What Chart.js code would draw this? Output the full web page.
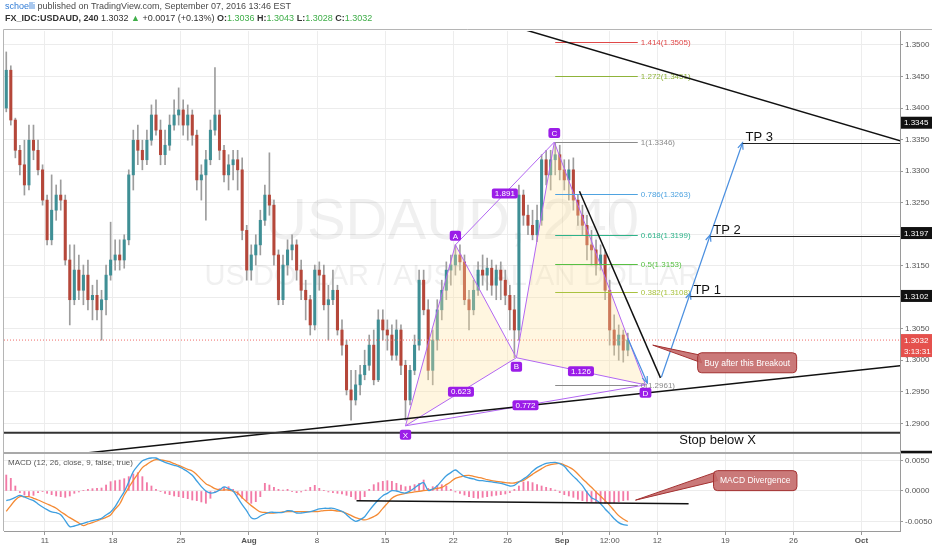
<!DOCTYPE html>
<html>
<head>
<meta charset="utf-8">
<script src="https://cdn.jsdelivr.net/npm/chart.js@4.4.0/dist/chart.umd.min.js"></script>
<style>
    html, body { margin: 0; padding: 0; background: #fff; }
    #wrap { position: relative; width: 932px; height: 550px; overflow: hidden; font-family: "Liberation Sans", Arial, sans-serif; }
    #chart { position: absolute; left: 0; top: 0; }
    .hdr { position: absolute; left: 5px; white-space: nowrap; font-size: 9px; line-height: 11px; color: #4a4a4a; }
    #hdr1 { top: 1px; }
    #hdr2 { top: 13px; color: #333; }
    .user { color: #2f7bd6; }
    .up { color: #3fae49; }
</style>
</head>
<body>
<div id="wrap">
    <canvas id="chart" width="932" height="550"></canvas>
    <div class="hdr" id="hdr1"><span class="user">schoelli</span> published on TradingView.com, September 07, 2016 13:46 EST</div>
    <div class="hdr" id="hdr2"><b>FX_IDC:USDAUD, 240</b> 1.3032 <span class="up">&#9650;</span> +0.0017 (+0.13%) <b>O:</b><span class="up">1.3036</span> <b>H:</b><span class="up">1.3043</span> <b>L:</b><span class="up">1.3028</span> <b>C:</b><span class="up">1.3032</span></div>
</div>
<script>
const FONT = '"Liberation Sans", Arial, sans-serif';

// 8h candles, USDAUD, early July -> Sep 7 2016
const opens = [
    1.3400,1.3460,1.3381,1.3333,1.3310,1.3278,1.3349,1.3333,1.3302,1.3254,
    1.3191,1.3238,1.3262,1.3254,1.3159,1.3096,1.3143,1.3111,1.3135,1.3096,
    1.3103,1.3080,1.3096,1.3135,1.3159,1.3167,1.3159,1.3191,1.3294,1.3349,
    1.3333,1.3318,1.3349,1.3389,1.3365,1.3326,1.3341,1.3373,1.3389,1.3397,
    1.3373,1.3389,1.3357,1.3286,1.3294,1.3318,1.3365,1.3389,1.3333,1.3294,
    1.3310,1.3318,1.3302,1.3206,1.3143,1.3167,1.3183,1.3222,1.3262,1.3246,
    1.3167,1.3096,1.3151,1.3175,1.3183,1.3143,1.3111,1.3096,1.3056,1.3143,
    1.3135,1.3088,1.3096,1.3111,1.3048,1.3024,1.2953,1.2937,1.2961,1.2977,
    1.2992,1.3024,1.2969,1.3064,1.3048,1.3040,1.3008,1.3048,1.2992,1.2937,
    1.2984,1.3024,1.3127,1.3080,1.2984,1.3032,1.3080,1.3111,1.3143,1.3151,
    1.3167,1.3156,1.3096,1.3080,1.3111,1.3143,1.3135,1.3146,1.3119,1.3143,
    1.3127,1.3103,1.3080,1.3048,1.3262,1.3230,1.3214,1.3199,1.3222,1.3318,
    1.3294,1.3318,1.3326,1.3302,1.3286,1.3302,1.3254,1.3230,1.3214,1.3183,
    1.3175,1.3151,1.3167,1.3111,1.3048,1.3024,1.3040,1.3016
];
const highs = [
    1.3489,1.3467,1.3384,1.3341,1.3349,1.3373,1.3373,1.3349,1.3310,1.3262,
    1.3294,1.3278,1.3286,1.3262,1.3183,1.3183,1.3167,1.3151,1.3159,1.3119,
    1.3127,1.3111,1.3151,1.3219,1.3191,1.3191,1.3199,1.3302,1.3365,1.3373,
    1.3349,1.3365,1.3405,1.3413,1.3381,1.3365,1.3389,1.3413,1.3432,1.3413,
    1.3405,1.3397,1.3365,1.3310,1.3333,1.3381,1.3464,1.3397,1.3341,1.3326,
    1.3333,1.3333,1.3321,1.3214,1.3183,1.3199,1.3238,1.3278,1.3329,1.3254,
    1.3175,1.3167,1.3191,1.3199,1.3191,1.3159,1.3127,1.3103,1.3151,1.3156,
    1.3151,1.3119,1.3143,1.3119,1.3064,1.3032,1.2984,1.2984,1.2992,1.3016,
    1.3040,1.3048,1.3080,1.3080,1.3064,1.3056,1.3064,1.3056,1.3000,1.2992,
    1.3040,1.3143,1.3143,1.3096,1.3048,1.3096,1.3127,1.3156,1.3167,1.3183,
    1.3183,1.3167,1.3111,1.3127,1.3156,1.3167,1.3162,1.3159,1.3151,1.3156,
    1.3143,1.3119,1.3103,1.3278,1.3270,1.3246,1.3238,1.3246,1.3326,1.3333,
    1.3333,1.3345,1.3341,1.3318,1.3318,1.3321,1.3262,1.3246,1.3230,1.3206,
    1.3191,1.3183,1.3175,1.3127,1.3072,1.3056,1.3048,1.3043
];
const lows = [
    1.3394,1.3373,1.3321,1.3294,1.3262,1.3270,1.3318,1.3294,1.3246,1.3183,
    1.3183,1.3222,1.3238,1.3151,1.3056,1.3088,1.3096,1.3088,1.3080,1.3064,
    1.3064,1.3032,1.3072,1.3127,1.3143,1.3143,1.3146,1.3183,1.3270,1.3310,
    1.3302,1.3310,1.3341,1.3357,1.3310,1.3310,1.3333,1.3365,1.3373,1.3357,
    1.3349,1.3341,1.3270,1.3254,1.3222,1.3310,1.3357,1.3318,1.3283,1.3270,
    1.3286,1.3270,1.3191,1.3127,1.3127,1.3151,1.3167,1.3214,1.3230,1.3151,
    1.3088,1.3088,1.3135,1.3159,1.3127,1.3096,1.3064,1.3040,1.3048,1.3111,
    1.3080,1.3032,1.3088,1.3040,1.3008,1.2945,1.2905,1.2929,1.2945,1.2969,
    1.2984,1.2961,1.2966,1.3032,1.3016,1.3000,1.3000,1.2977,1.2905,1.2929,
    1.2977,1.3016,1.3072,1.2969,1.2961,1.3016,1.3064,1.3096,1.3119,1.3135,
    1.3143,1.3088,1.3048,1.3072,1.3103,1.3119,1.3111,1.3103,1.3096,1.3096,
    1.3088,1.3048,1.3004,1.3032,1.3214,1.3199,1.3191,1.3188,1.3214,1.3278,
    1.3270,1.3294,1.3286,1.3270,1.3254,1.3238,1.3214,1.3199,1.3159,1.3151,
    1.3135,1.3143,1.3096,1.3024,1.3008,1.3000,1.2997,1.3007
];
const closes = [
    1.3460,1.3381,1.3333,1.3310,1.3278,1.3349,1.3333,1.3302,1.3254,1.3191,
    1.3238,1.3262,1.3254,1.3159,1.3096,1.3143,1.3111,1.3135,1.3096,1.3103,
    1.3080,1.3096,1.3135,1.3159,1.3167,1.3159,1.3191,1.3294,1.3349,1.3333,
    1.3318,1.3349,1.3389,1.3365,1.3326,1.3341,1.3373,1.3389,1.3397,1.3373,
    1.3389,1.3357,1.3286,1.3294,1.3318,1.3365,1.3389,1.3333,1.3294,1.3310,
    1.3318,1.3302,1.3206,1.3143,1.3167,1.3183,1.3222,1.3262,1.3246,1.3167,
    1.3096,1.3151,1.3175,1.3183,1.3143,1.3111,1.3096,1.3056,1.3143,1.3135,
    1.3088,1.3096,1.3111,1.3048,1.3024,1.2953,1.2937,1.2961,1.2977,1.2992,
    1.3024,1.2969,1.3064,1.3048,1.3040,1.3008,1.3048,1.2992,1.2937,1.2984,
    1.3024,1.3127,1.3080,1.2984,1.3032,1.3080,1.3111,1.3143,1.3151,1.3167,
    1.3156,1.3096,1.3080,1.3111,1.3143,1.3135,1.3146,1.3119,1.3143,1.3127,
    1.3103,1.3080,1.3048,1.3262,1.3230,1.3214,1.3199,1.3222,1.3318,1.3294,
    1.3318,1.3326,1.3302,1.3286,1.3302,1.3254,1.3230,1.3214,1.3183,1.3175,
    1.3151,1.3167,1.3111,1.3048,1.3024,1.3040,1.3016,1.3032
];

// MACD (12, 26, close, 9)
const macdLine = [
    -0.00158,-0.00137,-0.00104,-0.00071,-0.00098,-0.00131,-0.00158,-0.00213,-0.00262,-0.00306,
    -0.00344,-0.00355,-0.00388,-0.00486,-0.00585,-0.00574,-0.00552,-0.00530,-0.00508,-0.00486,
    -0.00470,-0.00448,-0.00393,-0.00344,-0.00257,-0.00131,-0.00011,0.00148,0.00317,0.00415,
    0.00497,0.00525,0.00541,0.00541,0.00503,0.00470,0.00443,0.00421,0.00399,0.00361,
    0.00317,0.00257,0.00164,0.00071,0.00000,-0.00033,-0.00022,0.00016,0.00066,0.00038,
    0.00000,-0.00109,-0.00224,-0.00328,-0.00437,-0.00454,-0.00410,-0.00377,-0.00350,-0.00350,
    -0.00355,-0.00350,-0.00322,-0.00328,-0.00361,-0.00361,-0.00350,-0.00339,-0.00317,-0.00295,
    -0.00284,-0.00284,-0.00284,-0.00306,-0.00333,-0.00388,-0.00454,-0.00497,-0.00470,-0.00421,
    -0.00322,-0.00230,-0.00148,-0.00077,-0.00038,0.00005,0.00000,-0.00022,-0.00033,0.00000,
    0.00049,0.00104,0.00137,0.00011,0.00033,0.00087,0.00169,0.00251,0.00301,0.00344,
    0.00290,0.00235,0.00213,0.00197,0.00175,0.00169,0.00158,0.00148,0.00137,0.00126,
    0.00104,0.00082,0.00093,0.00148,0.00197,0.00251,0.00322,0.00383,0.00421,0.00454,
    0.00464,0.00470,0.00448,0.00404,0.00317,0.00240,0.00169,0.00087,-0.00022,-0.00109,
    -0.00148,-0.00208,-0.00295,-0.00372,-0.00454,-0.00519,-0.00552,-0.00563
];
const signalLine = [
    -0.00333,-0.00240,-0.00148,-0.00093,-0.00093,-0.00093,-0.00120,-0.00148,-0.00180,-0.00213,
    -0.00246,-0.00284,-0.00339,-0.00388,-0.00437,-0.00481,-0.00525,-0.00568,-0.00541,-0.00519,
    -0.00492,-0.00459,-0.00432,-0.00393,-0.00295,-0.00213,-0.00066,0.00055,0.00175,0.00279,
    0.00383,0.00437,0.00486,0.00514,0.00508,0.00497,0.00481,0.00448,0.00421,0.00388,
    0.00355,0.00328,0.00268,0.00191,0.00120,0.00082,0.00038,0.00016,0.00016,0.00016,
    -0.00005,-0.00033,-0.00109,-0.00175,-0.00240,-0.00295,-0.00344,-0.00350,-0.00361,-0.00361,
    -0.00350,-0.00344,-0.00339,-0.00339,-0.00339,-0.00339,-0.00339,-0.00339,-0.00339,-0.00333,
    -0.00322,-0.00317,-0.00317,-0.00328,-0.00339,-0.00366,-0.00399,-0.00437,-0.00459,-0.00475,
    -0.00454,-0.00421,-0.00372,-0.00284,-0.00202,-0.00120,-0.00077,-0.00055,-0.00038,-0.00027,
    -0.00016,-0.00005,0.00005,0.00016,0.00027,0.00044,0.00060,0.00104,0.00153,0.00208,
    0.00230,0.00251,0.00257,0.00240,0.00224,0.00208,0.00186,0.00169,0.00158,0.00148,
    0.00137,0.00131,0.00131,0.00153,0.00175,0.00224,0.00273,0.00322,0.00366,0.00410,
    0.00432,0.00443,0.00454,0.00426,0.00393,0.00350,0.00279,0.00202,0.00131,0.00060,
    -0.00016,-0.00087,-0.00158,-0.00235,-0.00322,-0.00404,-0.00459,-0.00503
];
const histogram = [
    0.00262,0.00208,0.00082,-0.00027,-0.00066,-0.00082,-0.00071,-0.00027,-0.00011,-0.00038,
    -0.00060,-0.00082,-0.00093,-0.00104,-0.00082,-0.00038,-0.00016,0.00005,0.00027,0.00038,
    0.00044,0.00049,0.00098,0.00153,0.00169,0.00180,0.00202,0.00235,0.00279,0.00301,
    0.00235,0.00137,0.00082,0.00027,-0.00011,-0.00038,-0.00060,-0.00082,-0.00093,-0.00109,
    -0.00126,-0.00148,-0.00158,-0.00180,-0.00202,-0.00120,-0.00027,0.00038,0.00060,0.00071,
    0.00027,-0.00066,-0.00120,-0.00158,-0.00202,-0.00175,-0.00093,0.00126,0.00098,0.00060,
    0.00027,0.00016,0.00027,-0.00011,-0.00027,-0.00016,0.00016,0.00060,0.00093,0.00044,
    0.00005,-0.00016,-0.00027,-0.00038,-0.00049,-0.00071,-0.00093,-0.00137,-0.00148,-0.00093,
    0.00027,0.00104,0.00137,0.00158,0.00169,0.00158,0.00126,0.00098,0.00071,0.00082,
    0.00104,0.00126,0.00180,0.00044,0.00071,0.00093,0.00104,0.00082,0.00027,-0.00016,
    -0.00038,-0.00066,-0.00093,-0.00109,-0.00120,-0.00104,-0.00093,-0.00082,-0.00071,-0.00060,
    -0.00049,-0.00027,0.00027,0.00082,0.00148,0.00153,0.00137,0.00104,0.00082,0.00060,
    0.00044,0.00016,-0.00027,-0.00060,-0.00082,-0.00104,-0.00137,-0.00158,-0.00169,-0.00175,
    -0.00186,-0.00191,-0.00202,-0.00202,-0.00191,-0.00175,-0.00158,-0.00148
];

// axis ticks (x in candle units)
const dateTickPos = [8.5, 23.5, 38.5, 53.5, 68.5, 83.5, 98.5, 110.5, 122.5, 133, 143.5, 158.5, 173.5, 188.5];
const dateTickLabels = ['11', '18', '25', 'Aug', '8', '15', '22', '26', 'Sep', '12:00', '12', '19', '26', 'Oct'];
const priceTicks = [1.29, 1.295, 1.30, 1.305, 1.31, 1.315, 1.32, 1.325, 1.33, 1.335, 1.34, 1.345, 1.35];
const macdTicks = [-0.005, 0, 0.005];

// drawings, anchored as [candle unit, price]
const pattern = {
    X: [88.0, 1.2896],
    A: [99.0, 1.3183],
    B: [112.45, 1.3004],
    C: [120.8, 1.3346],
    D: [140.9, 1.2961]
};
const patternLegs = [['X', 'A'], ['A', 'B'], ['B', 'C'], ['C', 'D'], ['X', 'B'], ['B', 'D'], ['A', 'C'], ['X', 'D']];
const patternRatios = [['X', 'B', '0.623'], ['A', 'C', '1.891'], ['B', 'D', '1.126'], ['X', 'D', '0.772']];
const fibLevels = ['1.414', '1.272', '1', '0.786', '0.618', '0.5', '0.382', '0'];
const fibPrices = [1.3505, 1.3451, 1.3346, 1.3263, 1.3199, 1.3153, 1.3108, 1.2961];
const fibColors = ['#e04848', '#8fb33a', '#8a8a8a', '#4fa3e0', '#2eb38a', '#58c043', '#a9c23f', '#8a8a8a'];
const fibRange = [121.0, 139.2];
const trendLines = [
    [114.4, 1.3524, 198, 1.3346, 1.5],
    [10, 1.2847, 198, 1.2992, 1.5],
    [126.35, 1.3268, 144.2, 1.2972, 1.5]
];
const projection = [[144.4, 1.2973], [150.8, 1.3107], [155.2, 1.3199], [162.3, 1.3345]];
const legArrow = [[137.0, 1.3035], [141.3, 1.2964]];
const tpNames = ['TP 1', 'TP 2', 'TP 3'];
const tpPrices = [1.3102, 1.3197, 1.3345];
const tpStarts = [150.8, 155.2, 162.3];
const stopPrice = 1.2885;
const stopLabelAt = 156.8;
const lastPrice = 1.3032;
const divergence = [[77.2, -0.0016], [150.4, -0.0021]];
const buyNote = { text: 'Buy after this Breakout', tip: [142.5, 1.3024], box: [152.4, 1.2996] };
const macdNote = { text: 'MACD Divergence', tip: [138.7, -0.0015], box: [155.9, 0.0017] };
const axisTags = [
    { v: 1.3345, text: '1.3345', bg: '#111', dy: -20 },
    { v: 1.3197, text: '1.3197', bg: '#111', dy: -3 },
    { v: 1.3102, text: '1.3102', bg: '#111', dy: 0 },
    { v: 1.3032, text: '1.3032', bg: '#e5514d', dy: 0 },
    { v: 1.3032, text: '3:13:31', bg: '#e5514d', dy: 11 },
    { v: 1.2885, text: '1.2885', bg: '#111', dy: 24 }
];

const UP = '#3f8f95';
const DOWN = '#b5473a';
const idx = opens.map((_, i) => i);

function rrect(ctx, x, y, w, h, r) {
    ctx.beginPath();
    ctx.moveTo(x + r, y);
    ctx.lineTo(x + w - r, y);
    ctx.quadraticCurveTo(x + w, y, x + w, y + r);
    ctx.lineTo(x + w, y + h - r);
    ctx.quadraticCurveTo(x + w, y + h, x + w - r, y + h);
    ctx.lineTo(x + r, y + h);
    ctx.quadraticCurveTo(x, y + h, x, y + h - r);
    ctx.lineTo(x, y + r);
    ctx.quadraticCurveTo(x, y, x + r, y);
    ctx.closePath();
}

function seg(ctx, x0, y0, x1, y1, color, width, dash) {
    ctx.save();
    ctx.strokeStyle = color;
    ctx.lineWidth = width;
    ctx.setLineDash(dash || []);
    ctx.beginPath();
    ctx.moveTo(x0, y0);
    ctx.lineTo(x1, y1);
    ctx.stroke();
    ctx.restore();
}

function arrowHead(ctx, x0, y0, x1, y1, color) {
    const a = Math.atan2(y1 - y0, x1 - x0);
    const s = 7;
    ctx.save();
    ctx.strokeStyle = color;
    ctx.lineWidth = 1.2;
    ctx.beginPath();
    ctx.moveTo(x1 - s * Math.cos(a - 0.4), y1 - s * Math.sin(a - 0.4));
    ctx.lineTo(x1, y1);
    ctx.lineTo(x1 - s * Math.cos(a + 0.4), y1 - s * Math.sin(a + 0.4));
    ctx.stroke();
    ctx.restore();
}

function tag(ctx, cx, cy, text) {
    ctx.save();
    ctx.font = `8px ${FONT}`;
    const w = Math.max(ctx.measureText(text).width + 6, 9);
    ctx.fillStyle = '#9b1de8';
    rrect(ctx, cx - w / 2, cy - 5, w, 10, 2);
    ctx.fill();
    ctx.fillStyle = '#fff';
    ctx.textAlign = 'center';
    ctx.textBaseline = 'middle';
    ctx.fillText(text, cx, cy + 0.5);
    ctx.restore();
}

function callout(ctx, tx, ty, bx, by, text) {
    ctx.save();
    ctx.font = `8.5px ${FONT}`;
    const w = ctx.measureText(text).width + 13;
    const h = 20;
    const top = by - h / 2;
    ctx.fillStyle = 'rgba(196, 106, 106, 0.9)';
    ctx.strokeStyle = '#a33131';
    ctx.lineWidth = 1;
    ctx.beginPath();
    ctx.moveTo(bx + 1, top + 2);
    ctx.lineTo(tx, ty);
    ctx.lineTo(bx + 4, top + 10);
    ctx.closePath();
    ctx.fill();
    ctx.stroke();
    rrect(ctx, bx, top, w, h, 4);
    ctx.fill();
    ctx.stroke();
    ctx.fillStyle = '#fff';
    ctx.textAlign = 'center';
    ctx.textBaseline = 'middle';
    ctx.fillText(text, bx + w / 2, by + 0.5);
    ctx.restore();
}

const drawings = {
    id: 'drawings',
    beforeDatasetsDraw(chart) {
        const { ctx, chartArea: ca, scales } = chart;
        ctx.save();
        ctx.beginPath();
        ctx.rect(ca.left, scales.y.top, ca.width, scales.y.height);
        ctx.clip();
        ctx.fillStyle = 'rgba(60, 60, 60, 0.075)';
        ctx.textAlign = 'center';
        ctx.font = `58px ${FONT}`;
        const cx = (ca.left + ca.right) / 2;
        ctx.fillText('USDAUD, 240', cx, scales.y.getPixelForValue(1.3192));
        ctx.font = `29px ${FONT}`;
        ctx.fillText('US DOLLAR / AUSTRALIAN DOLLAR', cx, scales.y.getPixelForValue(1.3120));
        ctx.restore();
    },
    afterDatasetsDraw(chart) {
        const { ctx, chartArea: ca, scales } = chart;
        const X = u => scales.x.getPixelForValue(u);
        const Y = p => scales.y.getPixelForValue(p);
        const M = v => scales.y2.getPixelForValue(v);
        const pt = n => [X(pattern[n][0]), Y(pattern[n][1])];

        ctx.save();
        ctx.beginPath();
        ctx.rect(ca.left, scales.y.top, ca.width, scales.y.height);
        ctx.clip();

        seg(ctx, ca.left, Y(lastPrice), ca.right, Y(lastPrice), '#ef6b67', 1, [1, 2]);

        // harmonic pattern fill + legs
        ctx.fillStyle = 'rgba(255, 226, 160, 0.32)';
        [['X', 'A', 'B'], ['B', 'C', 'D']].forEach(tri => {
            ctx.beginPath();
            tri.forEach((n, i) => {
                const [px, py] = pt(n);
                i ? ctx.lineTo(px, py) : ctx.moveTo(px, py);
            });
            ctx.closePath();
            ctx.fill();
        });
        patternLegs.forEach(([a, b]) => {
            const [x0, y0] = pt(a);
            const [x1, y1] = pt(b);
            seg(ctx, x0, y0, x1, y1, '#b266f2', 1);
        });

        // fib retracement C -> D
        ctx.font = `8px ${FONT}`;
        ctx.textAlign = 'left';
        ctx.textBaseline = 'middle';
        fibLevels.forEach((lvl, i) => {
            const yy = Math.round(Y(fibPrices[i])) + 0.5;
            seg(ctx, X(fibRange[0]), yy, X(fibRange[1]), yy, fibColors[i], 1);
            ctx.fillStyle = fibColors[i];
            ctx.fillText(`${lvl}(${fibPrices[i].toFixed(4)})`, X(fibRange[1]) + 3, yy);
        });

        // trend lines
        trendLines.forEach(([u0, p0, u1, p1, w]) => seg(ctx, X(u0), Y(p0), X(u1), Y(p1), '#111', w));

        // stop line
        const sy = Y(stopPrice);
        seg(ctx, ca.left, sy, ca.right, sy, '#333', 2);
        ctx.fillStyle = '#111';
        ctx.font = `13px ${FONT}`;
        ctx.textAlign = 'center';
        ctx.textBaseline = 'top';
        ctx.fillText('Stop below X', X(stopLabelAt), sy + 1);

        // blue arrows
        const blue = '#4a8fe0';
        const [a0, a1] = legArrow;
        seg(ctx, X(a0[0]), Y(a0[1]), X(a1[0]), Y(a1[1]), blue, 1.2);
        arrowHead(ctx, X(a0[0]), Y(a0[1]), X(a1[0]), Y(a1[1]), blue);
        for (let i = 1; i < projection.length; i++) {
            const p = projection[i - 1];
            const q = projection[i];
            seg(ctx, X(p[0]), Y(p[1]), X(q[0]), Y(q[1]), blue, 1.2);
            arrowHead(ctx, X(p[0]), Y(p[1]), X(q[0]), Y(q[1]), blue);
        }

        // targets
        tpNames.forEach((name, i) => {
            const yy = Math.round(Y(tpPrices[i])) + 0.5;
            seg(ctx, X(tpStarts[i]), yy, ca.right, yy, '#222', 1);
            ctx.fillStyle = '#111';
            ctx.font = `13px ${FONT}`;
            ctx.textAlign = 'left';
            ctx.textBaseline = 'alphabetic';
            ctx.fillText(name, X(tpStarts[i]) + 3, yy - 3);
        });

        // pattern tags
        patternRatios.forEach(([a, b, txt]) => {
            const [x0, y0] = pt(a);
            const [x1, y1] = pt(b);
            tag(ctx, (x0 + x1) / 2, (y0 + y1) / 2, txt);
        });
        const tagSide = { X: 9, A: -9, B: 9, C: -9, D: 8 };
        Object.keys(pattern).forEach(n => {
            const [px, py] = pt(n);
            tag(ctx, px, py + tagSide[n], n);
        });

        callout(ctx, X(buyNote.tip[0]), Y(buyNote.tip[1]), X(buyNote.box[0]), Y(buyNote.box[1]), buyNote.text);
        ctx.restore();

        // MACD pane
        ctx.save();
        ctx.beginPath();
        ctx.rect(ca.left, scales.y2.top, ca.width, scales.y2.height);
        ctx.clip();
        seg(ctx, X(divergence[0][0]), M(divergence[0][1]), X(divergence[1][0]), M(divergence[1][1]), '#111', 1.5);
        ctx.fillStyle = '#555';
        ctx.font = `8px ${FONT}`;
        ctx.textAlign = 'left';
        ctx.textBaseline = 'middle';
        ctx.fillText('MACD (12, 26, close, 9, false, true)', ca.left + 4, scales.y2.top + 10);
        callout(ctx, X(macdNote.tip[0]), M(macdNote.tip[1]), X(macdNote.box[0]), M(macdNote.box[1]), macdNote.text);
        ctx.restore();
    },
    afterDraw(chart) {
        const { ctx, chartArea: ca, scales } = chart;
        // frame + pane separator
        ctx.save();
        ctx.strokeStyle = '#b5b5b5';
        ctx.lineWidth = 1;
        ctx.beginPath();
        ctx.moveTo(ca.left - 0.5, ca.top - 1.5);
        ctx.lineTo(chart.width, ca.top - 1.5);
        ctx.moveTo(ca.left - 0.5, ca.top - 1.5);
        ctx.lineTo(ca.left - 0.5, ca.bottom);
        ctx.stroke();
        ctx.strokeStyle = '#a9a9a9';
        ctx.lineWidth = 2;
        ctx.beginPath();
        ctx.moveTo(ca.left, scales.y2.top);
        ctx.lineTo(chart.width, scales.y2.top);
        ctx.stroke();

        // price tags on the axis
        ctx.beginPath();
        ctx.rect(ca.right, scales.y.top, chart.width - ca.right, scales.y.height);
        ctx.clip();
        ctx.font = `8px ${FONT}`;
        ctx.textAlign = 'left';
        ctx.textBaseline = 'middle';
        axisTags.forEach(t => {
            const yy = scales.y.getPixelForValue(t.v) + t.dy;
            ctx.fillStyle = t.bg;
            ctx.fillRect(ca.right + 1, yy - 6, chart.width - ca.right - 1, 12);
            ctx.fillStyle = '#fff';
            ctx.fillText(t.text, ca.right + 4, yy + 0.5);
        });
        ctx.restore();
    }
};

const tickFont = { size: 8, family: FONT };

new Chart(document.getElementById('chart'), {
    type: 'bar',
    data: {
        datasets: [
            {
                label: 'MACD',
                type: 'line',
                data: idx.map(i => ({ x: i, y: macdLine[i] })),
                yAxisID: 'y2',
                borderColor: '#3e9fe0',
                borderWidth: 1.3,
                pointRadius: 0,
                tension: 0.35,
                order: 1
            },
            {
                label: 'Signal',
                type: 'line',
                data: idx.map(i => ({ x: i, y: signalLine[i] })),
                yAxisID: 'y2',
                borderColor: '#f48a34',
                borderWidth: 1.3,
                pointRadius: 0,
                tension: 0.35,
                order: 2
            },
            {
                label: 'Histogram',
                data: idx.map(i => ({ x: i, y: histogram[i] })),
                yAxisID: 'y2',
                backgroundColor: '#f27aa6',
                barThickness: 1.2,
                grouped: false,
                order: 3
            },
            {
                label: 'Bodies',
                data: idx.map(i => ({ x: i, y: [opens[i], closes[i]] })),
                yAxisID: 'y',
                backgroundColor: idx.map(i => closes[i] >= opens[i] ? UP : DOWN),
                barThickness: 2.4,
                minBarLength: 1,
                grouped: false,
                order: 4
            },
            {
                label: 'Wicks',
                data: idx.map(i => ({ x: i, y: [lows[i], highs[i]] })),
                yAxisID: 'y',
                backgroundColor: '#9d9d9d',
                barThickness: 1,
                grouped: false,
                order: 5
            }
        ]
    },
    plugins: [drawings],
    options: {
        responsive: false,
        animation: false,
        layout: { padding: { left: 4, top: 31, right: 0, bottom: 0 } },
        plugins: {
            legend: { display: false },
            tooltip: { enabled: false }
        },
        scales: {
            x: {
                type: 'linear',
                min: -0.5,
                max: 197,
                offset: false,
                afterBuildTicks: s => { s.ticks = dateTickPos.map(v => ({ value: v })); },
                afterFit: s => { s.height = 19; },
                ticks: {
                    autoSkip: false,
                    maxRotation: 0,
                    padding: 1,
                    color: '#555',
                    font: c => ({ ...tickFont, weight: /^[A-Z]/.test(dateTickLabels[c.index]) ? 'bold' : 'normal' }),
                    callback: (v, i) => dateTickLabels[i]
                },
                grid: { color: '#ededed', offset: false, tickLength: 4, tickColor: '#999' },
                border: { color: '#9a9a9a' }
            },
            y: {
                type: 'linear',
                position: 'right',
                stack: 'panes',
                stackWeight: 422,
                min: 1.28529,
                max: 1.35222,
                afterBuildTicks: s => { s.ticks = priceTicks.map(v => ({ value: v })); },
                afterFit: s => { s.width = 32; },
                ticks: { padding: 2, color: '#555', font: tickFont, callback: v => v.toFixed(4) },
                grid: { color: '#ececec', tickLength: 3, tickColor: '#999' },
                border: { color: '#9a9a9a' }
            },
            y2: {
                type: 'linear',
                position: 'right',
                stack: 'panes',
                stackWeight: 78,
                min: -0.00656,
                max: 0.00623,
                afterBuildTicks: s => { s.ticks = macdTicks.map(v => ({ value: v })); },
                afterFit: s => { s.width = 32; },
                ticks: { padding: 2, color: '#555', font: tickFont, callback: v => v.toFixed(4) },
                grid: { color: '#ececec', tickLength: 3, tickColor: '#999' },
                border: { color: '#9a9a9a' }
            }
        }
    }
});
</script>
</body>
</html>
